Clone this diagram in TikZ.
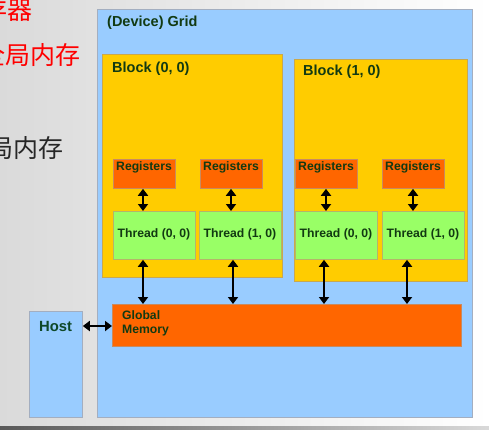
\documentclass[tikz,border=0pt]{standalone}
\usepackage{fontspec}
\setmainfont{Liberation Sans}
\newfontfamily\cjk{Noto Sans CJK SC}
\usetikzlibrary{arrows.meta}
\definecolor{gridblue}{HTML}{99CCFF}
\definecolor{gridedge}{HTML}{A3AEC0}
\definecolor{blockyel}{HTML}{FFCC00}
\definecolor{blockedge}{HTML}{C9A84E}
\definecolor{regorange}{HTML}{FF6600}
\definecolor{regedge}{HTML}{C98A5E}
\definecolor{thrgreen}{HTML}{99FF66}
\definecolor{thredge}{HTML}{B5B56A}
\definecolor{txtgreen}{HTML}{123A12}
\definecolor{bgl}{HTML}{DADADA}
\tikzset{
  box/.style={draw, line width=0.8pt, inner sep=0pt, anchor=north west},
  gridbox/.style={box, fill=gridblue, draw=gridedge},
  blockbox/.style={box, fill=blockyel, draw=blockedge},
  regbox/.style={box, fill=regorange, draw=regedge, minimum width=62pt, minimum height=29pt},
  thrbox/.style={box, fill=thrgreen, draw=thredge, minimum height=48pt},
  lbl/.style={font=\bfseries\fontsize{14.5}{17}\selectfont, text=txtgreen, anchor=west, inner sep=0pt},
  slbl/.style={font=\bfseries\fontsize{12.2}{14.5}\selectfont, text=txtgreen, inner sep=0pt},
  dbl/.style={line width=2pt, {Triangle[width=10pt,length=7pt]}-{Triangle[width=10pt,length=7pt]}, shorten <=0pt, shorten >=0pt},
  cn/.style={font=\cjk\fontsize{25}{27}\selectfont, anchor=east, inner sep=0pt}
}
\begin{document}
\begin{tikzpicture}[x=1pt,y=-1pt]
\useasboundingbox (0,0) rectangle (489,429);
\shade[left color=bgl, right color=white] (0,0) rectangle (489,426);
\shade[left color=black!65, right color=black!15] (0,426) rectangle (489,429);
% Chinese texts
\node[cn, text=red] (t1) at (33,10) {寄存器};
\node[cn, text=red] (t2) at (81,55) {全局内存};
\node[cn, text=black!85] (t3) at (64,148) {全局内存};
% grid
\node[gridbox, minimum width=375pt, minimum height=408pt] (grid) at (97,9) {};
\node[lbl] (gridl) at (107,23) {(Device) Grid};
% blocks
\node[blockbox, minimum width=180pt, minimum height=223pt] (b0) at (102,54) {};
\node[blockbox, minimum width=173pt, minimum height=222pt] (b1) at (294,59) {};
\node[lbl] (b0l) at (112,69) {Block (0, 0)};
\node[lbl] (b1l) at (303,72) {Block (1, 0)};
% registers
\node[regbox] (r1) at (113,159) {};
\node[regbox] (r2) at (200,159) {};
\node[regbox] (r3) at (295,159) {};
\node[regbox] (r4) at (382,159) {};
\foreach \r/\x in {r1/144, r2/231, r3/326, r4/413}
  \node[slbl] (\r l) at (\x,167) {Registers};
% threads
\node[thrbox, minimum width=82pt] (th1) at (113,211) {};
\node[thrbox, minimum width=82pt] (th2) at (199,211) {};
\node[thrbox, minimum width=82pt] (th3) at (295,211) {};
\node[thrbox, minimum width=82pt] (th4) at (382,211) {};
\node[slbl] (th1l) at (154,234) {Thread (0, 0)};
\node[slbl] (th2l) at (240,234) {Thread (1, 0)};
\node[slbl] (th3l) at (336,234) {Thread (0, 0)};
\node[slbl] (th4l) at (423,234) {Thread (1, 0)};
% global memory
\node[box, fill=regorange, draw=regedge, minimum width=349pt, minimum height=42pt] (gm) at (112,304) {};
\node[slbl, anchor=west, align=left] (gml) at (122,323.5) {Global\\Memory};
% host
\node[box, fill=gridblue, draw=gridedge, minimum width=53pt, minimum height=106pt] (host) at (29,311) {};
\node[lbl, font=\bfseries\fontsize{14.8}{17}\selectfont, text=txtgreen!80!teal] (hostl) at (39,326) {Host};
% arrows registers-thread
\draw[dbl] (r1.south -| 143,0) -- (th1.north -| 143,0);
\draw[dbl] (r2.south -| 231,0) -- (th2.north -| 231,0);
\draw[dbl] (r3.south -| 326,0) -- (th3.north -| 326,0);
\draw[dbl] (r4.south -| 413,0) -- (th4.north -| 413,0);
% arrows thread-global
\draw[dbl] (th1.south -| 143,0) -- (gm.north -| 143,0);
\draw[dbl] (th2.south -| 233,0) -- (gm.north -| 233,0);
\draw[dbl] (th3.south -| 324,0) -- (gm.north -| 324,0);
\draw[dbl] (th4.south -| 407,0) -- (gm.north -| 407,0);
% host arrow
\draw[dbl] (host.east |- 0,326) -- (gm.west |- 0,326);
\end{tikzpicture}
\end{document}
